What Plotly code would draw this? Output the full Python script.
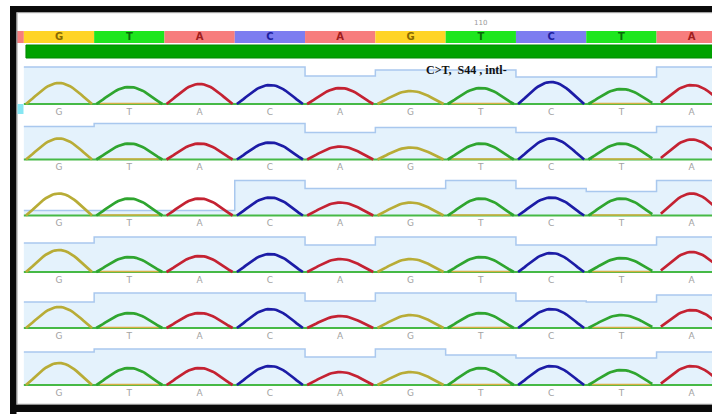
import numpy as np
import plotly.graph_objects as go

# ---------------- data ----------------
bases = ["G", "T", "A", "C", "A", "G", "T", "C", "T", "A"]
prev_base = "A"                      # partially visible base left of the window
position_label_index = 6
position_label = "110"
mutation_note = "C>T,  S44 , intl-"
clear_range = [-0.47, 9.6]           # trimmed (green) region in base units

# peak heights per read (rows) per base
peak_heights = [
    [21, 17, 20, 19, 16, 13, 16, 22, 15, 19],
    [21, 16, 16, 17, 13, 12, 16, 21, 16, 20],
    [22, 17, 17, 18, 13, 13, 17, 18, 17, 22],
    [22, 15, 16, 18, 13, 13, 15, 19, 14, 20],
    [21, 15, 15, 19, 12, 13, 15, 19, 13, 18],
    [22, 17, 17, 19, 13, 13, 17, 19, 15, 19],
]
# per-base quality profile per read
quality = [
    [37, 37, 37, 37, 28, 34, 34, 27, 27, 37],
    [33, 36, 36, 36, 27, 32, 32, 27, 27, 33],
    [5, 5, 5, 35, 27, 27, 35, 27, 24, 35],
    [29, 35, 35, 35, 27, 35, 35, 27, 27, 35],
    [26, 35, 35, 35, 27, 35, 35, 27, 26, 33],
    [33, 36, 36, 36, 28, 36, 30, 27, 27, 33],
]

trace_colors = {"G": "#b8ac36", "T": "#2fa52f", "A": "#c42232", "C": "#1c1ca6"}
cell_colors = {"G": "#ffd426", "T": "#1ee61e", "A": "#f77d7d", "C": "#7d7df0"}
cell_text = {"G": "#8a6a00", "T": "#0a6a0a", "A": "#a01e1e", "C": "#1e1ea0"}

# ---------------- layout geometry ----------------
W, H = 712, 414
X0_PX, BASE_PX = 59.0, 70.3
def px_to_idx(p):
    return (p - X0_PX) / BASE_PX

dom_left = 17
x_range = [px_to_idx(dom_left), px_to_idx(W)]
row_baselines_px = [104, 159.5, 215.5, 272, 328, 385]
Y_LO, Y_HI = -12, 44
HALF_W = 0.47

fig = go.Figure()
layout_axes = {}
idx = np.arange(len(bases))

for r, bpx in enumerate(row_baselines_px):
    yname = "y" if r == 0 else f"y{r+1}"
    axkey = "yaxis" if r == 0 else f"yaxis{r+1}"
    layout_axes[axkey] = dict(
        domain=[(H - (bpx - Y_LO)) / H, (H - (bpx - Y_HI)) / H],
        range=[Y_LO, Y_HI], visible=False, anchor="x", fixedrange=True)

    q = quality[r]
    qx = list(idx - 0.5) + [len(bases) - 0.5 + 0.3]
    qy = list(q) + [q[-1]]
    fig.add_trace(go.Scatter(x=qx, y=qy, mode="lines", line_shape="hv",
                             line=dict(color="#a9c8ee", width=1.5),
                             fill="tozeroy", fillcolor="#e4f2fc",
                             xaxis="x", yaxis=yname, hoverinfo="skip"))
    # baseline
    fig.add_trace(go.Scatter(x=[-0.5, len(bases)], y=[0, 0], mode="lines",
                             line=dict(color="#46b946", width=2),
                             xaxis="x", yaxis=yname, hoverinfo="skip"))
    # faint G channel along baseline under T peaks
    ux, uy = [], []
    for i, b in enumerate(bases):
        if b == "T":
            ux += [i - 0.42, i + 0.42, None]
            uy += [0.6, 0.6, None]
    fig.add_trace(go.Scatter(x=ux, y=uy, mode="lines",
                             line=dict(color="#d6b042", width=1.5),
                             xaxis="x", yaxis=yname, hoverinfo="skip"))
    # peaks per channel
    for ch, col in trace_colors.items():
        px_, py_ = [], []
        for i, b in enumerate(bases):
            if b != ch:
                continue
            xs = np.linspace(i - HALF_W, i + HALF_W, 31)
            t = (xs - i) / HALF_W
            ys = peak_heights[r][i] * np.cos(np.pi * t / 2) ** 1.15
            px_ += list(xs) + [None]
            py_ += list(ys) + [None]
        fig.add_trace(go.Scatter(x=px_, y=py_, mode="lines",
                                 line=dict(color=col, width=2.7),
                                 xaxis="x", yaxis=yname, hoverinfo="skip"))
    # base calls below trace
    fig.add_trace(go.Scatter(x=idx, y=[-8.5] * len(bases), mode="text", text=bases,
                             textfont=dict(family="DejaVu Sans", size=9, color="#a2a2a2"),
                             xaxis="x", yaxis=yname, hoverinfo="skip"))

# ---------------- top consensus bar ----------------
layout_axes["yaxis7"] = dict(domain=[(H - 60) / H, (H - 16) / H], range=[60, 16],
                             visible=False, anchor="x", fixedrange=True)
bar_bases = [prev_base] + bases
bar_x = list(range(-1, len(bases)))
fig.add_trace(go.Bar(x=bar_x, y=[12] * len(bar_bases), base=[31] * len(bar_bases), width=1,
                     marker=dict(color=[cell_colors[b] for b in bar_bases], line_width=0),
                     xaxis="x", yaxis="y7", hoverinfo="skip"))
fig.add_trace(go.Scatter(x=idx, y=[37.5] * len(bases), mode="text",
                         text=["<b>" + b + "</b>" for b in bases],
                         textfont=dict(family="DejaVu Sans", size=10,
                                       color=[cell_text[b] for b in bases]),
                         xaxis="x", yaxis="y7", hoverinfo="skip"))
fig.add_trace(go.Bar(x=[(clear_range[0] + clear_range[1]) / 2], y=[13], base=[45],
                     width=[clear_range[1] - clear_range[0]],
                     marker=dict(color="#00a200", line=dict(color="#008a00", width=1)),
                     xaxis="x", yaxis="y7", hoverinfo="skip"))
fig.add_trace(go.Scatter(x=[position_label_index], y=[23.5], mode="text", text=[position_label],
                         textfont=dict(family="DejaVu Sans", size=7, color="#9a9a9a"),
                         xaxis="x", yaxis="y7", hoverinfo="skip"))

# ---------------- annotation ----------------
shapes = []
shapes.append(dict(type="rect", xref="x", yref="y", x0=px_to_idx(446), x1=px_to_idx(474),
                   y0=26, y1=31, fillcolor="#a9c8ee", line_width=0, layer="below"))
annotations = [dict(x=px_to_idx(424), y=34, xref="x", yref="y",
                    text="<b>" + mutation_note + "</b>",
                    showarrow=False, xanchor="left", yanchor="middle",
                    font=dict(family="Liberation Serif", size=12, color="#111111"))]

# ---------------- frame ----------------
def pxr(x0, y0, x1, y1, color):
    return dict(type="rect", xref="paper", yref="paper",
                x0=x0 / W, x1=x1 / W, y0=(H - y1) / H, y1=(H - y0) / H,
                fillcolor=color, line_width=0, layer="above")

shapes += [
    pxr(10, 6, 16.5, H, "#0a0a0a"),
    pxr(10, 6, W, 12.5, "#0a0a0a"),
    pxr(10, 404.5, W, 412, "#0a0a0a"),
    pxr(16.5, 12.5, 17.5, 404.5, "#9a9a9a"),
    pxr(16.5, 12.5, W, 13.3, "#bdbdbd"),
    pxr(16.5, 403.7, W, 404.5, "#9a9a9a"),
    pxr(17.5, 104, 23.5, 114, "#86e6f2"),
]

fig.update_layout(
    width=W, height=H, margin=dict(l=0, r=0, t=0, b=0),
    paper_bgcolor="white", plot_bgcolor="white", showlegend=False,
    barmode="overlay",
    xaxis=dict(domain=[dom_left / W, 1], range=x_range, visible=False,
               anchor="y", fixedrange=True),
    shapes=shapes, annotations=annotations,
    **layout_axes,
)
fig.write_html("out.html", config={"displayModeBar": False},
               post_script="document.body.style.margin='0px';document.body.style.overflow='hidden';")
